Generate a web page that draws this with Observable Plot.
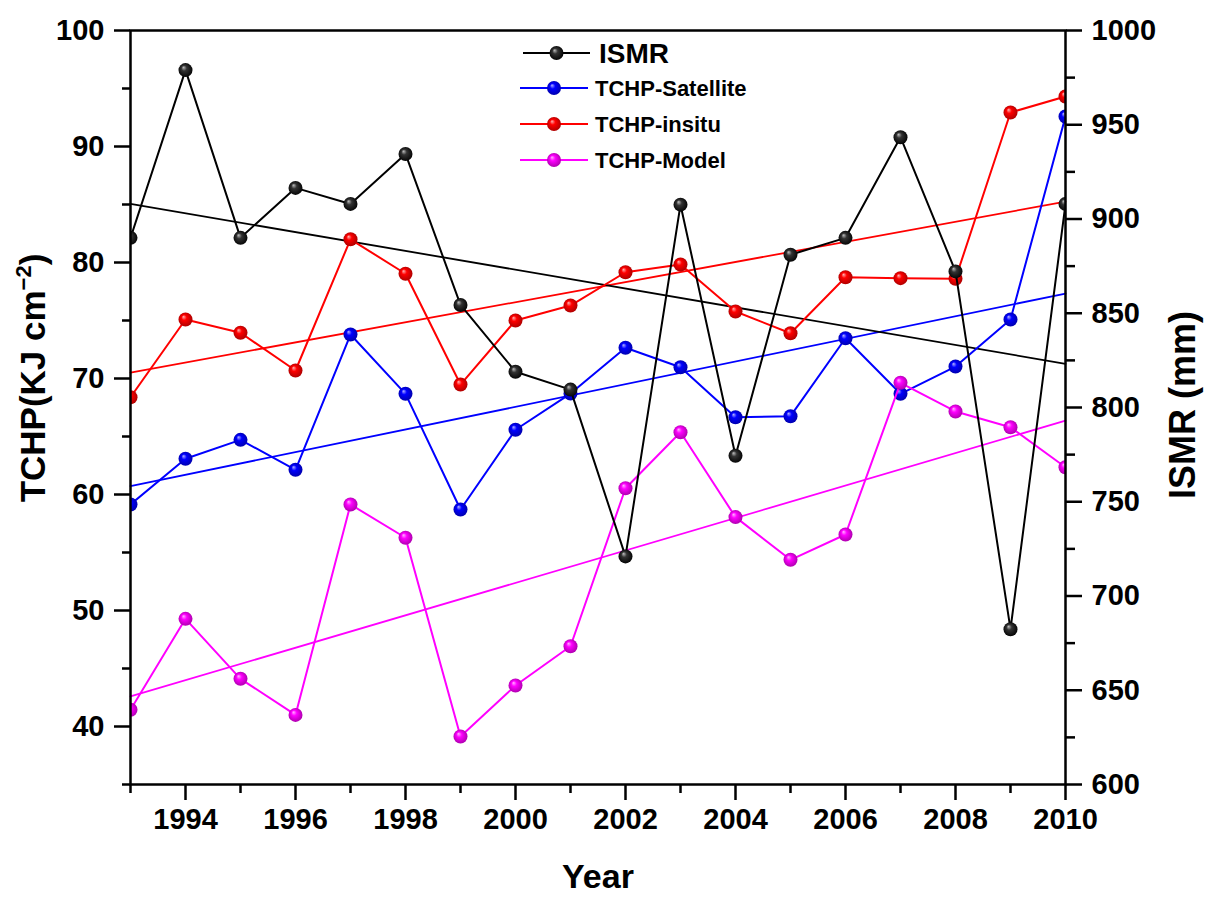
<!DOCTYPE html>
<html><head><meta charset="utf-8">
<script src="https://cdn.jsdelivr.net/npm/d3@7"></script>
<script src="https://cdn.jsdelivr.net/npm/@observablehq/plot@0.6"></script>
<style>
body{margin:0;background:#fff;}
#chart{position:relative;width:1205px;height:899px;}
</style>
</head><body><div id="chart"></div>
<script>
// ---- data ----
const years = [1993,1994,1995,1996,1997,1998,1999,2000,2001,2002,2003,2004,2005,2006,2007,2008,2009,2010];
const ismr = [890,979,890,916.5,908,934.5,854.4,819,809.5,721,907.6,774.4,881,890,943.4,872.2,682.4,908];
const tchpSatellite = [59.14,63.08,64.71,62.13,73.79,68.68,58.71,65.58,68.7,72.65,70.97,66.66,66.75,73.47,68.68,71.03,75.09,92.59];
const tchpInsitu = [68.39,75.09,73.94,70.69,82.0,79.03,69.48,75.0,76.29,79.16,79.83,75.78,73.9,78.73,78.65,78.6,92.93,94.31];
const tchpModel = [41.44,49.28,44.11,41.0,59.14,56.27,39.14,43.53,46.92,60.54,65.37,58.05,54.37,56.55,69.63,67.16,65.8,62.35];
const seriesNames = ["ISMR","TCHP-Satellite","TCHP-insitu","TCHP-Model"];
const seriesColors = ["#000000","#0000ff","#ff0000","#ff00ff"];
const leftTicks = [40,50,60,70,80,90,100];
const leftMinor = [35,45,55,65,75,85,95];
const rightTicks = [600,650,700,750,800,850,900,950,1000];
const rightMinor = [625,675,725,775,825,875,925,975];
const yearTicks = [1994,1996,1998,2000,2002,2004,2006,2008,2010];
const yearMinor = [1993,1995,1997,1999,2001,2003,2005,2007,2009];
const leftDomain = [35,100];
const rightDomain = [600,1000];

// map right-axis (mm) values onto the left-axis scale
const mmToLeft = v => leftDomain[0] + (v - rightDomain[0]) * (leftDomain[1]-leftDomain[0]) / (rightDomain[1]-rightDomain[0]);
const leftToMm = v => rightDomain[0] + (v - leftDomain[0]) * (rightDomain[1]-rightDomain[0]) / (leftDomain[1]-leftDomain[0]);

const seriesValues = [ismr.map(mmToLeft), tchpSatellite, tchpInsitu, tchpModel];
const tables = seriesValues.map((vals, i) => years.map((yr, j) => ({year: yr, v: vals[j], series: seriesNames[i]})));

const FONT = "Liberation Sans, Arial, Helvetica, sans-serif";
const drawOrder = [1,2,3,0];

const marks = [];
// trend lines
for (const i of drawOrder) {
  marks.push(Plot.linearRegressionY(tables[i], {x: "year", y: "v", stroke: seriesColors[i], strokeWidth: 1.8, ci: 0}));
}
// series lines + ball markers
for (const i of drawOrder) {
  marks.push(Plot.line(tables[i], {x: "year", y: "v", stroke: seriesColors[i], strokeWidth: 2, clip: true}));
  marks.push(Plot.dot(tables[i], {x: "year", y: "v", r: 7, fill: `url(#ball-${i})`, stroke: "none", clip: true}));
}
// axes
const axisFont = {fontSize: 29, fontWeight: "bold", fontFamily: FONT};
marks.push(Plot.axisX({ticks: yearTicks, tickSize: 16, tickPadding: 8, tickFormat: d => String(d), strokeWidth: 2.5, label: null, ...axisFont}));
marks.push(Plot.axisX({ticks: yearMinor, tickSize: 9, tickFormat: () => "", strokeWidth: 2.5, label: null}));
marks.push(Plot.axisY({ticks: leftTicks, tickSize: 16, tickPadding: 10, tickFormat: d => String(d), strokeWidth: 2.5, label: null, ...axisFont}));
marks.push(Plot.axisY({ticks: leftMinor, tickSize: 8, tickFormat: () => "", strokeWidth: 2.5, label: null}));
marks.push(Plot.axisY({anchor: "right", ticks: rightTicks.map(mmToLeft), tickSize: 16, tickPadding: 10, tickFormat: d => String(Math.round(leftToMm(d))), strokeWidth: 2.5, label: null, ...axisFont}));
marks.push(Plot.axisY({anchor: "right", ticks: rightMinor.map(mmToLeft), tickSize: 9, tickFormat: () => "", strokeWidth: 2.5, label: null}));
marks.push(Plot.frame({stroke: "black", strokeWidth: 2.5}));

const chart = Plot.plot({
  width: 1205, height: 899,
  marginLeft: 130, marginRight: 140, marginTop: 30, marginBottom: 115,
  x: {domain: [years[0], years[years.length-1]]},
  y: {domain: leftDomain},
  style: {fontFamily: FONT, fontWeight: "bold", color: "black", background: "white"},
  marks
});
document.getElementById("chart").appendChild(chart);

// ---- gradients, labels, legend ----
const svg = d3.select(chart);
const defs = svg.insert("defs", ":first-child");
seriesColors.forEach((c, i) => {
  const base = d3.color(c);
  const light = d3.interpolateRgb(c, "#ffffff")(i === 0 ? 0.75 : 0.7);
  const dark = d3.interpolateRgb(c, "#000000")(i === 0 ? 0 : 0.35);
  const g = defs.append("radialGradient").attr("id", `ball-${i}`)
    .attr("cx", "0.5").attr("cy", "0.5").attr("r", "0.55")
    .attr("fx", "0.35").attr("fy", "0.3");
  g.append("stop").attr("offset", "0%").attr("stop-color", light);
  g.append("stop").attr("offset", "35%").attr("stop-color", i === 0 ? "#333" : base.formatHex());
  g.append("stop").attr("offset", "100%").attr("stop-color", dark);
});

const lab = svg.append("g").attr("font-family", FONT).attr("font-weight", "bold").attr("fill", "black");
const yl = lab.append("text").attr("transform", "translate(45,378) rotate(-90)")
  .attr("text-anchor", "middle").attr("font-size", 35);
yl.append("tspan").text("TCHP(KJ cm");
yl.append("tspan").attr("font-size", 22).attr("dy", -14).text("\u22122");
yl.append("tspan").attr("dy", 14).text(")");
lab.append("text").attr("transform", "translate(1195,405) rotate(-90)")
  .attr("text-anchor", "middle").attr("font-size", 36).text("ISMR (mm)");
lab.append("text").attr("x", 598).attr("y", 888).attr("text-anchor", "middle").attr("font-size", 34).text("Year");

// legend
const legendRows = [
  {i: 0, y: 53, x0: 523, x1: 590, tx: 599, fs: 28},
  {i: 1, y: 88, x0: 520, x1: 588, tx: 595, fs: 22},
  {i: 2, y: 124, x0: 520, x1: 588, tx: 595, fs: 22},
  {i: 3, y: 160, x0: 520, x1: 588, tx: 595, fs: 22}
];
const lg = svg.append("g").attr("font-family", FONT).attr("font-weight", "bold");
legendRows.forEach(r => {
  lg.append("line").attr("x1", r.x0).attr("x2", r.x1).attr("y1", r.y).attr("y2", r.y)
    .attr("stroke", seriesColors[r.i]).attr("stroke-width", 2);
  lg.append("circle").attr("cx", (r.x0 + r.x1) / 2).attr("cy", r.y).attr("r", 7).attr("fill", `url(#ball-${r.i})`);
  lg.append("text").attr("x", r.tx).attr("y", r.y).attr("dy", "0.36em").attr("text-anchor", "start")
    .attr("font-size", r.fs).attr("fill", "black").text(seriesNames[r.i]);
});
</script>
</body></html>
